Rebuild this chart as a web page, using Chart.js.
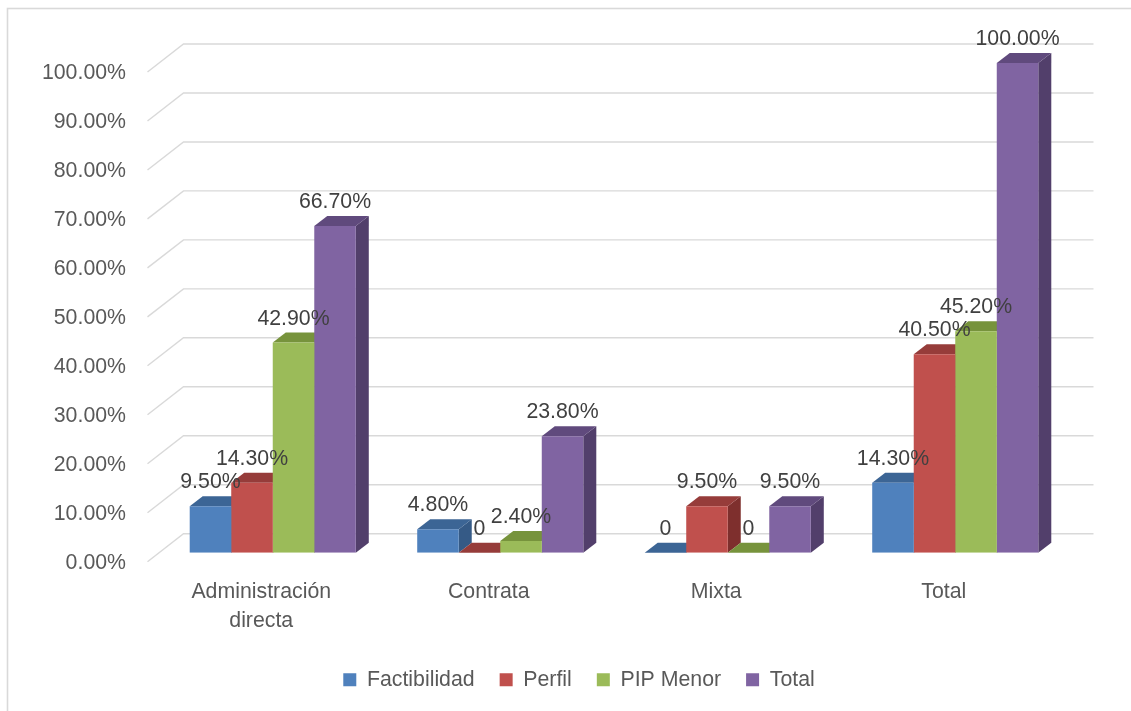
<!DOCTYPE html>
<html>
<head>
<meta charset="utf-8">
<script src="https://cdn.jsdelivr.net/npm/chart.js@4.4.1/dist/chart.umd.min.js"></script>
<style>
  html, body { margin: 0; padding: 0; background: #ffffff; }
  #wrap { width: 1131px; height: 711px; position: relative; }
</style>
</head>
<body>
<div id="wrap"><canvas id="c" width="1131" height="711"></canvas></div>
<script>
// ---- data ----
const categories = [['Administración', 'directa'], 'Contrata', 'Mixta', 'Total'];
const seriesNames = ['Factibilidad', 'Perfil', 'PIP Menor', 'Total'];
const factibilidad = [9.5, 4.8, 0, 14.3];
const perfil = [14.3, 0, 9.5, 40.5];
const pipMenor = [42.9, 2.4, 0, 45.2];
const totalSeries = [66.7, 23.8, 9.5, 100];
const yTickValues = [0, 10, 20, 30, 40, 50, 60, 70, 80, 90, 100];

// ---- styles ----
const frontColors = ['#4F81BD', '#C0504D', '#9BBB59', '#8064A2'];
const topColors = ['#3C6595', '#963C3A', '#77933C', '#604A7D'];
const sideColors = ['#355A86', '#7E2F2D', '#6A8535', '#523F6B'];
const FONT = '"Liberation Sans", Arial, sans-serif';
const FS = 21.3;
const BAR_DX = 13, BAR_DY = -10;         // bar depth
const FRONT_DX = -11.5, FRONT_DY = 9;     // bar plane -> front plane
const BACK_DX = 24.5, BACK_DY = -19;      // bar plane -> back wall
const LEGEND_SHIFT = 44.5;

const threeD = {
  id: 'threeD',
  afterLayout(chart) {
    if (chart.legend) {
      chart.legend.left += LEGEND_SHIFT;
      chart.legend.right += LEGEND_SHIFT;
    }
  },
  beforeDraw(chart) {
    const ctx = chart.ctx;
    ctx.save();
    ctx.fillStyle = '#ffffff';
    ctx.fillRect(0, 0, chart.width, chart.height);
    ctx.strokeStyle = '#D9D9D9';
    ctx.lineWidth = 1.6;
    ctx.strokeRect(7.5, 8.5, chart.width + 20, chart.height + 20);
    ctx.restore();
  },
  beforeDatasetsDraw(chart) {
    const ctx = chart.ctx;
    const ys = chart.scales.y;
    const area = chart.chartArea;
    ctx.save();
    // slanted gridlines
    ctx.strokeStyle = '#D9D9D9';
    ctx.lineWidth = 1.4;
    yTickValues.forEach(v => {
      const y = ys.getPixelForValue(v);
      ctx.beginPath();
      ctx.moveTo(area.left + FRONT_DX, y + FRONT_DY);
      ctx.lineTo(area.left + BACK_DX, y + BACK_DY);
      ctx.lineTo(area.right + BACK_DX, y + BACK_DY);
      ctx.stroke();
    });
    // side + top faces, painter's order left to right
    const n = chart.data.labels.length;
    for (let i = 0; i < n; i++) {
      chart.data.datasets.forEach((ds, d) => {
        const meta = chart.getDatasetMeta(d);
        const el = meta.data[i];
        const p = el.getProps(['x', 'y', 'base', 'width'], true);
        const xl = p.x - p.width / 2, xr = p.x + p.width / 2;
        const yt = Math.min(p.y, p.base), yb = Math.max(p.y, p.base);
        // side
        ctx.fillStyle = sideColors[d];
        ctx.beginPath();
        ctx.moveTo(xr, yt);
        ctx.lineTo(xr + BAR_DX, yt + BAR_DY);
        ctx.lineTo(xr + BAR_DX, yb + BAR_DY);
        ctx.lineTo(xr, yb);
        ctx.closePath();
        ctx.fill();
        // top
        ctx.fillStyle = topColors[d];
        ctx.beginPath();
        ctx.moveTo(xl, yt);
        ctx.lineTo(xr, yt);
        ctx.lineTo(xr + BAR_DX, yt + BAR_DY);
        ctx.lineTo(xl + BAR_DX, yt + BAR_DY);
        ctx.closePath();
        ctx.fill();
      });
    }
    ctx.restore();
  },
  afterDatasetsDraw(chart) {
    const ctx = chart.ctx;
    ctx.save();
    ctx.font = FS + 'px ' + FONT;
    ctx.fillStyle = '#404040';
    ctx.textAlign = 'center';
    ctx.textBaseline = 'alphabetic';
    chart.data.datasets.forEach((ds, d) => {
      const meta = chart.getDatasetMeta(d);
      meta.data.forEach((el, i) => {
        const p = el.getProps(['x', 'y'], true);
        const v = ds.data[i];
        const txt = v === 0 ? '0' : v.toFixed(2) + '%';
        ctx.fillText(txt, p.x, p.y - 18);
      });
    });
    ctx.restore();
  }
};

const chart = new Chart(document.getElementById('c'), {
  type: 'bar',
  data: {
    labels: categories,
    datasets: [
      { label: seriesNames[0], data: factibilidad, backgroundColor: frontColors[0] },
      { label: seriesNames[1], data: perfil, backgroundColor: frontColors[1] },
      { label: seriesNames[2], data: pipMenor, backgroundColor: frontColors[2] },
      { label: seriesNames[3], data: totalSeries, backgroundColor: frontColors[3] }
    ]
  },
  options: {
    responsive: false,
    animation: false,
    devicePixelRatio: 1,
    layout: { padding: { left: 0, right: 62, top: 63, bottom: 10.5 } },
    datasets: { bar: { categoryPercentage: 0.73, barPercentage: 1, borderWidth: 0 } },
    scales: {
      x: {
        grid: { display: false, drawTicks: false },
        border: { display: false },
        ticks: {
          color: '#595959',
          font: { family: FONT, size: FS, lineHeight: 1.36 },
          padding: 25,
          labelOffset: -11.5,
          maxRotation: 0,
          autoSkip: false
        },
        afterFit: s => { s.height = 91.5; }
      },
      y: {
        min: 0, max: 100,
        grid: { display: false, drawTicks: false },
        border: { display: false },
        ticks: {
          stepSize: 10,
          color: '#595959',
          font: { family: FONT, size: FS },
          padding: 33,
          labelOffset: 10,
          callback: v => v.toFixed(2) + '%'
        },
        afterFit: s => { s.width = 159; }
      }
    },
    plugins: {
      legend: {
        position: 'bottom',
        labels: {
          color: '#595959',
          font: { family: FONT, size: FS },
          boxWidth: 13,
          boxHeight: 13,
          padding: 25
        }
      },
      tooltip: { enabled: false }
    }
  },
  plugins: [threeD]
});
</script>
</body>
</html>
